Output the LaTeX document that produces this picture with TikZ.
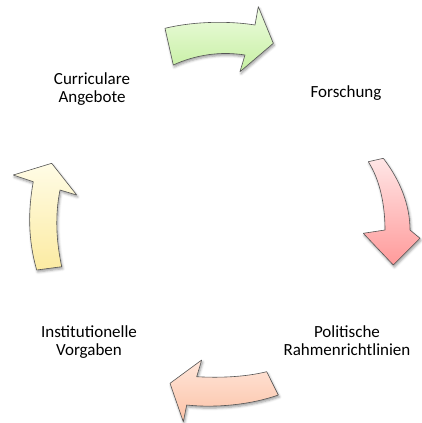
\documentclass[tikz,border=0pt]{standalone}
\usepackage{fontspec}
\setmainfont{Carlito}
\usetikzlibrary{shadows.blur}

\definecolor{arrowline}{HTML}{555555}
\definecolor{greenTop}{HTML}{EEFCE0}
\definecolor{greenBot}{HTML}{C6EFA2}
\definecolor{pinkTop}{HTML}{FFE6E6}
\definecolor{pinkBot}{HTML}{FF9A9A}
\definecolor{orangeTop}{HTML}{FFE6DA}
\definecolor{orangeBot}{HTML}{FCC2A6}
\definecolor{yellowTop}{HTML}{FFFCE6}
\definecolor{yellowBot}{HTML}{FCEBA2}

\tikzset{
  cyclearrow/.style={draw=arrowline, line width=0.6pt, line join=round,
    blur shadow={shadow xshift=1pt, shadow yshift=-2pt,
                 shadow blur radius=2.5pt, shadow opacity=40}},
  stagetext/.style={font=\fontsize{17}{18.5}\selectfont, align=center, inner sep=0pt}
}

\begin{document}
\begin{tikzpicture}[x=1pt, y=-1pt]

    \useasboundingbox (0,0) rectangle (422,423);

    % Labels
    \node[stagetext] (angebote) at (92,89) {Curriculare\\Angebote};
    \node[stagetext] (forschung) at (346,93.5) {Forschung};
    \node[stagetext] (rahmen) at (347,340.5) {Politische\\Rahmenrichtlinien};
    \node[stagetext] (vorgaben) at (89,342) {Institutionelle\\Vorgaben};

    % Top arrow
    \path[cyclearrow, top color=greenTop, bottom color=greenBot]
      (165,28.3) .. controls (195,21) and (230,21) .. (255,25)
      -- (258.3,6.7) -- (273.3,43.3) -- (240,71.7) -- (245,55)
      .. controls (220,51) and (195,55) .. (173.3,65) -- cycle;

    % Right arrow
    \path[cyclearrow, top color=pinkTop, bottom color=pinkBot]
      (368.3,161.7) -- (383.3,158.3)
      .. controls (400,180) and (410,205) .. (410,230)
      -- (420,238.3) -- (393.3,265) -- (363.3,233.3) -- (385,230)
      .. controls (385,205) and (380,180) .. (368.3,161.7) -- cycle;

    % Bottom arrow
    \path[cyclearrow, top color=orangeTop, bottom color=orangeBot]
      (266.7,371.7) .. controls (245,377) and (220,378) .. (196.7,376.7)
      -- (201.7,360) -- (170,383.3) -- (183.3,421.7) -- (186.7,405)
      .. controls (215,408) and (250,405) .. (278.3,395) -- cycle;

    % Left arrow
    \path[cyclearrow, top color=yellowTop, bottom color=yellowBot]
      (36.7,270) .. controls (28,240) and (28,210) .. (33.3,181.7)
      -- (13.3,175) -- (51.7,163.3) -- (76.7,195) -- (60,190)
      .. controls (55,215) and (56,240) .. (61.7,266.7) -- cycle;

\end{tikzpicture}
\end{document}
